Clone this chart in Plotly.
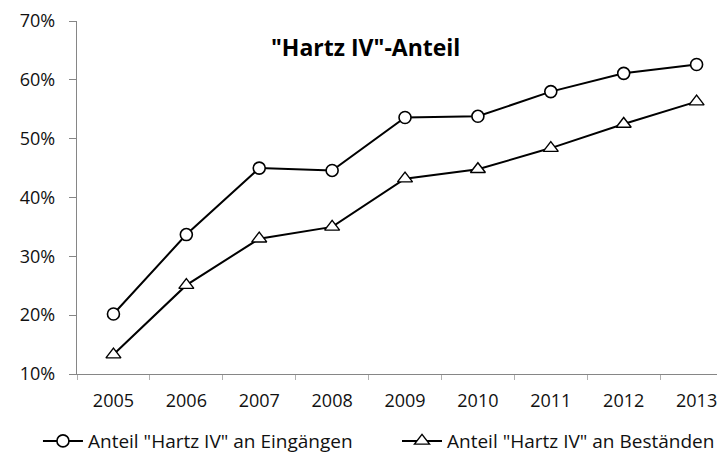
import plotly.graph_objects as go

years = ["2005", "2006", "2007", "2008", "2009", "2010", "2011", "2012", "2013"]
eingaenge = [20.2, 33.7, 45.0, 44.6, 53.6, 53.8, 58.0, 61.1, 62.6]
bestaende = [13.3, 25.1, 33.0, 35.0, 43.2, 44.8, 48.4, 52.5, 56.3]
series_names = ['Anteil "Hartz IV" an Eingängen', 'Anteil "Hartz IV" an Beständen']
title_text = '<b>"Hartz IV"-Anteil</b>'
y_ticks = [10, 20, 30, 40, 50, 60, 70]

FONT = "Open Sans"
TXT = "#111111"

fig = go.Figure()
fig.add_trace(go.Scatter(
    x=years, y=eingaenge, name=series_names[0], mode="lines+markers",
    line=dict(color="black", width=2),
    marker=dict(symbol="circle", size=12, color="white", line=dict(color="black", width=1.6)),
    legend="legend",
))
fig.add_trace(go.Scatter(
    x=years, y=bestaende, name=series_names[1], mode="lines+markers",
    line=dict(color="black", width=2),
    marker=dict(symbol="triangle-up", size=13, color="white", line=dict(color="black", width=1.4)),
    legend="legend2",
))

legend_common = dict(orientation="h", yanchor="middle", xanchor="left",
                     font=dict(family=FONT, size=19, color=TXT), itemwidth=40,
                     bgcolor="rgba(0,0,0,0)")
fig.update_layout(
    width=720, height=462,
    margin=dict(l=77, r=0, t=21, b=88),
    paper_bgcolor="white", plot_bgcolor="white",
    font=dict(family=FONT, size=18, color=TXT),
    showlegend=True,
    legend=dict(x=-0.061, y=-0.19, **legend_common),
    legend2=dict(x=0.5, y=-0.19, **legend_common),
    annotations=[dict(text=title_text, x=0.451, y=0.926, xref="paper", yref="paper",
                      xanchor="center", yanchor="middle",
                      showarrow=False, font=dict(family=FONT, size=23, color="black"))],
)
fig.update_xaxes(
    type="category", range=[-0.5, 8.28],
    showline=True, linecolor="#868686", linewidth=1.3,
    ticks="outside", tickson="boundaries", ticklen=5, tickcolor="#b0b0b0",
    ticklabelstandoff=10,
    showgrid=False, zeroline=False, fixedrange=True,
)
fig.update_yaxes(
    range=[10, 70], tickvals=y_ticks, ticktext=[f"{v}%" for v in y_ticks],
    showline=True, linecolor="#868686", linewidth=1.3,
    ticks="outside", ticklen=7, tickcolor="#868686",
    ticklabelstandoff=10,
    showgrid=False, zeroline=False, fixedrange=True,
)

fig.write_html("out.html", config={"displayModeBar": False},
               post_script="document.body.style.margin='0';document.body.style.overflow='hidden';")
